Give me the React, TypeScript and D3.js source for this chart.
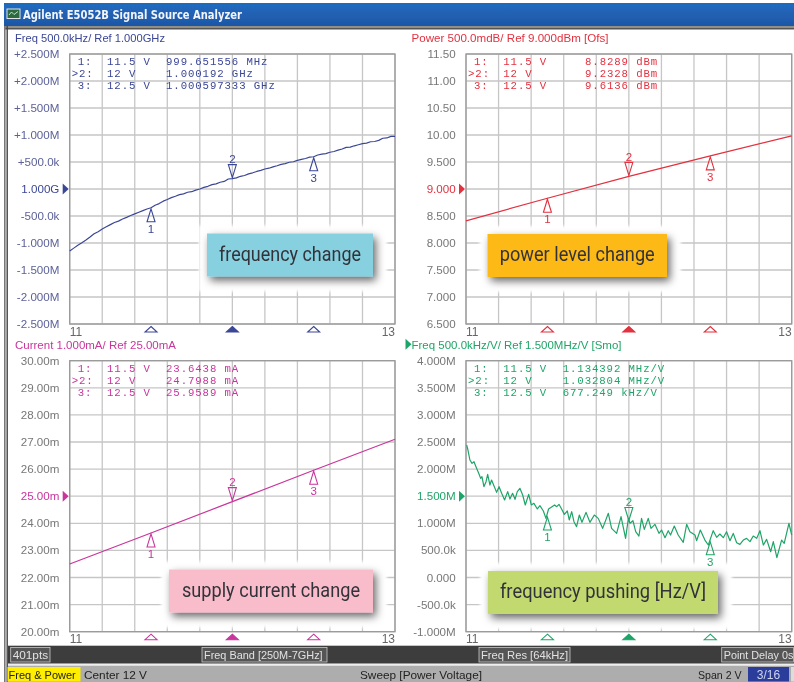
import React from "react";
import * as d3 from "d3";

const width = 794;
const height = 682;

// voltage sweep of the frequency trace
const freqVolts = [
  11, 11.025, 11.05, 11.075, 11.1, 11.125, 11.15, 11.175, 11.2, 11.225, 11.25, 11.275, 11.3, 11.325, 11.35, 11.375,
  11.4, 11.425, 11.45, 11.475, 11.5, 11.525, 11.55, 11.575, 11.6, 11.625, 11.65, 11.675, 11.7, 11.725, 11.75, 11.775,
  11.8, 11.825, 11.85, 11.875, 11.9, 11.925, 11.95, 11.975, 12, 12.025, 12.05, 12.075, 12.1, 12.125, 12.15, 12.175,
  12.2, 12.225, 12.25, 12.275, 12.3, 12.325, 12.35, 12.375, 12.4, 12.425, 12.45, 12.475, 12.5, 12.525, 12.55, 12.575,
  12.6, 12.625, 12.65, 12.675, 12.7, 12.725, 12.75, 12.775, 12.8, 12.825, 12.85, 12.875, 12.9, 12.925, 12.95, 12.975,
  13,
];
const freqValues = [
  -1.148, -1.095, -1.04, -0.995, -0.945, -0.89, -0.83, -0.79, -0.74, -0.7, -0.66, -0.62, -0.595, -0.555, -0.525, -0.49,
  -0.46, -0.43, -0.4, -0.37, -0.348, -0.3, -0.27, -0.225, -0.195, -0.16, -0.135, -0.105, -0.09, -0.06, -0.05, -0.02, 0,
  0.03, 0.05, 0.08, 0.095, 0.125, 0.14, 0.185, 0.192, 0.205, 0.235, 0.25, 0.28, 0.3, 0.325, 0.345, 0.37, 0.385, 0.41,
  0.43, 0.455, 0.47, 0.495, 0.505, 0.53, 0.55, 0.565, 0.59, 0.597, 0.63, 0.645, 0.655, 0.68, 0.695, 0.72, 0.74, 0.77,
  0.775, 0.8, 0.82, 0.84, 0.85, 0.875, 0.88, 0.9, 0.94, 0.945, 0.975, 0.975,
];

const powerVolts = [11, 11.5, 12, 12.5, 13];
const powerValues = [8.41, 8.829, 9.233, 9.614, 9.985];

const currentVolts = [11, 11.5, 12, 12.5, 13];
const currentValues = [22.5, 23.644, 24.799, 25.959, 27.1];

const pushVolts = [
  11.004, 11.012, 11.024, 11.037, 11.049, 11.065, 11.078, 11.09, 11.098, 11.11, 11.123, 11.133, 11.147, 11.157, 11.174,
  11.188, 11.203, 11.219, 11.237, 11.256, 11.27, 11.286, 11.301, 11.315, 11.331, 11.348, 11.364, 11.385, 11.401,
  11.417, 11.438, 11.454, 11.475, 11.491, 11.507, 11.528, 11.544, 11.557, 11.571, 11.587, 11.604, 11.622, 11.634,
  11.649, 11.663, 11.679, 11.696, 11.712, 11.737, 11.761, 11.788, 11.812, 11.839, 11.874, 11.894, 11.925, 11.952,
  11.98, 11.997, 12.007, 12.025, 12.042, 12.062, 12.078, 12.095, 12.119, 12.136, 12.16, 12.185, 12.201, 12.222,
  12.242, 12.256, 12.279, 12.303, 12.334, 12.355, 12.375, 12.406, 12.416, 12.439, 12.467, 12.488, 12.518, 12.539,
  12.559, 12.58, 12.6, 12.621, 12.641, 12.662, 12.682, 12.703, 12.723, 12.744, 12.764, 12.785, 12.805, 12.826, 12.846,
  12.871, 12.887, 12.909, 12.938, 12.954, 12.983, 13,
];
const pushValues = [
  2.445, 2.352, 2.168, 2.106, 2.137, 2.014, 1.922, 1.829, 1.86, 1.676, 1.768, 1.903, 1.706, 1.799, 1.676, 1.571, 1.676,
  1.553, 1.43, 1.584, 1.448, 1.553, 1.442, 1.584, 1.645, 1.522, 1.338, 1.534, 1.338, 1.368, 1.264, 1.325, 1.227, 1.091,
  1.264, 1.307, 1.338, 1.307, 1.35, 1.264, 1.165, 1.227, 1.061, 1.214, 1.03, 0.938, 1.153, 1.018, 1.202, 1.018, 1.153,
  1.091, 0.907, 1.184, 0.907, 0.815, 1.122, 0.722, 1.091, 1.0, 1.048, 0.845, 0.765, 1.091, 0.888, 1.091, 0.907, 0.981,
  0.815, 0.876, 0.735, 0.864, 0.784, 0.95, 0.784, 0.648, 0.981, 0.845, 0.784, 0.679, 0.876, 0.691, 0.599, 0.864, 0.741,
  0.802, 0.735, 0.845, 0.679, 0.814, 0.642, 0.611, 0.691, 0.722, 0.661, 0.765, 0.722, 0.864, 0.599, 0.704, 0.476, 0.661,
  0.366, 0.691, 0.63, 1.0, 0.784,
];

const markerVolts = [11.5, 12, 12.5];
const markerNames = ["1:", ">2:", "3:"];
const markerVoltText = ["11.5 V", "12 V", "12.5 V"];

const freqTicks = ["+2.500M", "+2.000M", "+1.500M", "+1.000M", "+500.0k", "1.000G", "-500.0k", "-1.000M", "-1.500M", "-2.000M", "-2.500M"];
const powerTicks = ["11.50", "11.00", "10.50", "10.00", "9.500", "9.000", "8.500", "8.000", "7.500", "7.000", "6.500"];
const currentTicks = ["30.00m", "29.00m", "28.00m", "27.00m", "26.00m", "25.00m", "24.00m", "23.00m", "22.00m", "21.00m", "20.00m"];
const pushTicks = ["4.000M", "3.500M", "3.000M", "2.500M", "2.000M", "1.500M", "1.000M", "500.0k", "0.000", "-500.0k", "-1.000M"];

const panels = [
  {
    title: "Freq 500.0kHz/ Ref 1.000GHz",
    titleWidth: 150,
    color: "#3b4796",
    tickColor: "#5c6199",
    left: 69.7, right: 395, top: 54, bottom: 324,
    domain: [-2.5, 2.5],
    ticks: freqTicks,
    volts: freqVolts,
    values: freqValues,
    markers: [-0.348, 0.192, 0.597],
    readout: ["999.651556 MHz", "1.000192 GHz", "1.000597333 GHz"],
    readoutX: 166,
    callout: { text: "frequency change", fill: "#86d0df", x0: 207, x1: 373, textWidth: 142 },
    calloutTop: 233.5,
  },
  {
    title: "Power 500.0mdB/ Ref 9.000dBm [Ofs]",
    titleWidth: 197,
    color: "#e2313f",
    tickColor: "#777",
    left: 466, right: 791.7, top: 54, bottom: 324,
    domain: [6.5, 11.5],
    ticks: powerTicks,
    volts: powerVolts,
    values: powerValues,
    markers: [8.829, 9.233, 9.614],
    readout: ["8.8289 dBm", "9.2328 dBm", "9.6136 dBm"],
    readoutX: 585,
    callout: { text: "power level change", fill: "#fdb913", x0: 487.5, x1: 667, textWidth: 155 },
    calloutTop: 234,
  },
  {
    title: "Current 1.000mA/ Ref 25.00mA",
    titleWidth: 161,
    color: "#c9359c",
    tickColor: "#777",
    left: 69.7, right: 395, top: 360.7, bottom: 631.7,
    domain: [20, 30],
    ticks: currentTicks,
    volts: currentVolts,
    values: currentValues,
    markers: [23.644, 24.799, 25.959],
    readout: ["23.6438 mA", "24.7988 mA", "25.9589 mA"],
    readoutX: 166,
    callout: { text: "supply current change", fill: "#f8bccb", x0: 169, x1: 373, textWidth: 178 },
    calloutTop: 569.5,
  },
  {
    title: "Freq 500.0kHz/V/ Ref 1.500MHz/V [Smo]",
    titleWidth: 210,
    color: "#1fa567",
    tickColor: "#777",
    left: 466, right: 791.7, top: 360.7, bottom: 631.7,
    domain: [-1, 4],
    ticks: pushTicks,
    volts: pushVolts,
    values: pushValues,
    markers: [1.134, 1.033, 0.677],
    readout: ["1.134392 MHz/V", "1.032804 MHz/V", "677.249 kHz/V"],
    readoutX: 562.7,
    callout: { text: "frequency pushing [Hz/V]", fill: "#c1d96e", x0: 488, x1: 718, textWidth: 206 },
    calloutTop: 571,
  },
];

type PanelDef = (typeof panels)[number];

const sans = "'Liberation Sans', Arial, sans-serif";
const mono = "'Liberation Mono', monospace";

const scalesFor = (p: PanelDef) => ({
  x: d3.scaleLinear().domain([11, 13]).range([p.left, p.right]),
  y: d3.scaleLinear().domain(p.domain).range([p.bottom, p.top]),
  yTicks: d3.ticks(p.domain[0], p.domain[1], 10),
});

function PanelGrid({ p }: { p: PanelDef }) {
  const { x, y, yTicks } = scalesFor(p);
  return (
    <g>
      {x.ticks(10).map((t) => (
        <line key={t} x1={x(t)} x2={x(t)} y1={p.top} y2={p.bottom} stroke="#c6c6c6" strokeWidth={1.3} />
      ))}
      {yTicks.map((t) => (
        <line key={t} x1={p.left} x2={p.right} y1={y(t)} y2={y(t)} stroke="#c6c6c6" strokeWidth={1.3} />
      ))}
    </g>
  );
}

function PanelMarks({ p }: { p: PanelDef }) {
  const { x, y, yTicks } = scalesFor(p);
  const line = d3
    .line<number>()
    .x((d, i) => x(p.volts[i]))
    .y((d) => y(d));
  const refValue = yTicks[yTicks.length - 1 - 5];
  const isRight = p.left > 100;
  const labelRight = p.left - 10.3;
  const titleX = isRight ? p.left - 54.5 : 15;

  return (
    <g>
      <text
        x={titleX}
        y={p.top - 12}
        fontFamily={sans}
        fontSize={11.6}
        fill={p.color}
        textLength={p.titleWidth}
        lengthAdjust="spacingAndGlyphs"
      >
        {p.title}
      </text>
      {/* the active trace gets a small arrow in front of its title */}
      {p === panels[3] && (
        <path d={`M${titleX - 6},${p.top - 22}L${titleX},${p.top - 16.5}L${titleX - 6},${p.top - 11}Z`} fill={p.color} />
      )}
      <rect x={p.left} y={p.top} width={p.right - p.left} height={p.bottom - p.top} fill="none" stroke="#999" strokeWidth={1.3} />
      {/* tick labels */}
      {p.ticks.map((label, i) => (
        <text
          key={label}
          x={labelRight}
          y={y(yTicks[yTicks.length - 1 - i]) + 4}
          textAnchor="end"
          fontFamily={sans}
          fontSize={11.6}
          fill={i === 5 ? p.color : p.tickColor}
        >
          {label}
        </text>
      ))}
      <path
        d={`M${p.left - 7},${y(refValue) - 5.5}L${p.left - 1},${y(refValue)}L${p.left - 7},${y(refValue) + 5.5}Z`}
        fill={p.color}
      />
      <text x={p.left} y={p.bottom + 11.5} fontFamily={sans} fontSize={12} fill="#666">11</text>
      <text x={p.right} y={p.bottom + 11.5} textAnchor="end" fontFamily={sans} fontSize={12} fill="#666">13</text>

      {/* readout */}
      {markerNames.map((name, i) => {
        const rowY = p.top + 10.8 + i * 12.2;
        const nameX = p.left + (i === 1 ? 2 : 8);
        return (
          <g key={name} fontFamily={mono} fontSize={10.7} fill={p.color} style={{ letterSpacing: "0.9px" }}>
            <text x={nameX} y={rowY}>{name}</text>
            <text x={p.left + 37.3} y={rowY}>{markerVoltText[i]}</text>
            <text x={p.readoutX} y={rowY}>{p.readout[i]}</text>
          </g>
        );
      })}

      {/* trace */}
      <path d={line(p.values) || ""} fill="none" stroke={p.color} strokeWidth={1.2} strokeLinejoin="round" />

      {/* markers on the trace */}
      {markerVolts.map((v, i) => {
        const mx = x(v);
        const my = y(p.markers[i]);
        const up = i !== 1;
        const d = up
          ? `M${mx},${my + 1}L${mx + 4},${my + 14}L${mx - 4},${my + 14}Z`
          : `M${mx},${my - 1}L${mx + 4},${my - 14}L${mx - 4},${my - 14}Z`;
        return (
          <g key={v}>
            <path d={d} fill="none" stroke={p.color} strokeWidth={1.1} />
            <text
              x={mx}
              y={up ? my + 25 : my - 15.5}
              textAnchor="middle"
              fontFamily={sans}
              fontSize={11.5}
              fill={p.color}
            >
              {i + 1}
            </text>
          </g>
        );
      })}

      {/* markers on the axis */}
      {markerVolts.map((v, i) => {
        const mx = x(v);
        const d = `M${mx},${p.bottom + 2.5}L${mx + 6},${p.bottom + 8}L${mx - 6},${p.bottom + 8}Z`;
        return <path key={v} d={d} fill={i === 1 ? p.color : "none"} stroke={p.color} strokeWidth={1.1} />;
      })}
    </g>
  );
}

// white patch the pasted label leaves on the grid
function CalloutHalo({ p }: { p: PanelDef }) {
  const c = p.callout;
  const top = p.calloutTop;
  return (
    <rect
      x={c.x0 - 8}
      y={top - 8}
      width={c.x1 - c.x0 + 22}
      height={66}
      fill="#fff"
      filter="url(#soft)"
    />
  );
}

function Callout({ p }: { p: PanelDef }) {
  const c = p.callout;
  const top = p.calloutTop;
  return (
    <g>
      <rect x={c.x0} y={top} width={c.x1 - c.x0} height={43} fill={c.fill} filter="url(#shadow)" />
      <text
        x={(c.x0 + c.x1) / 2}
        y={top + 27}
        textAnchor="middle"
        fontFamily="Roboto, sans-serif"
        fontSize={19.5}
        fill="#33333a"
        textLength={c.textWidth}
        lengthAdjust="spacingAndGlyphs"
      >
        {c.text}
      </text>
    </g>
  );
}

function StatusBox({ x0, x1, label, size = 11.8 }: { x0: number; x1: number; label: string; size?: number }) {
  return (
    <g>
      <rect x={x0} y={647.5} width={x1 - x0} height={14.5} fill="#555" stroke="#c8c8c8" strokeWidth={0.8} />
      <text x={x0 + 2} y={659} fontFamily={sans} fontSize={size} fill="#e2e2e2">
        {label}
      </text>
    </g>
  );
}

export default function App() {
  return (
    <svg
      width={width}
      height={height}
      viewBox={`0 0 ${width} ${height}`}
      style={{ position: "absolute", left: 0, top: 0, display: "block", background: "#fff" }}
    >
      <defs>
        <linearGradient id="titleBar" x1="0" x2="0" y1="0" y2="1">
          <stop offset="0" stopColor="#1f6cc0" />
          <stop offset="0.5" stopColor="#2160b2" />
          <stop offset="1" stopColor="#1e56a6" />
        </linearGradient>
        <filter id="shadow" x="-20%" y="-40%" width="140%" height="200%">
          <feDropShadow dx="3" dy="4" stdDeviation="4" floodColor="#000" floodOpacity="0.6" />
        </filter>
        <filter id="soft" x="-20%" y="-40%" width="140%" height="180%">
          <feGaussianBlur stdDeviation="1.5" />
        </filter>
        <filter id="scan" x="0" y="0" width="100%" height="100%">
          <feGaussianBlur stdDeviation="0.35" />
        </filter>
      </defs>

      <g filter="url(#scan)">
        <rect x={0} y={0} width={width} height={height} fill="#fff" />
        {/* window frame */}
        <rect x={4} y={3} width={790} height={23} fill="url(#titleBar)" />
        <rect x={4} y={26} width={790} height={2} fill="#8f8f86" />
        <rect x={4} y={28} width={790} height={1.5} fill="#555" />
        <rect x={4} y={26} width={1.6} height={656} fill="#777" />
        <rect x={6.5} y={26} width={1.4} height={656} fill="#444" />
        <rect x={7} y={9} width={13} height={9.5} fill="#2d6b3d" stroke="#e4e4e4" strokeWidth={1} />
        <path d="M9,15L11.5,12L14,14.5L18,11.5" fill="none" stroke="#dfe" strokeWidth={0.8} />
        <text
          x={23}
          y={18.5}
          fontFamily="'DejaVu Sans', sans-serif"
          fontWeight="bold"
          fontSize={13}
          fill="#f2f5fa"
          textLength={219}
          lengthAdjust="spacingAndGlyphs"
        >
          Agilent E5052B Signal Source Analyzer
        </text>

        {panels.map((p) => (
          <PanelGrid key={p.title} p={p} />
        ))}
        {panels.map((p) => (
          <CalloutHalo key={p.title} p={p} />
        ))}
        {panels.map((p) => (
          <PanelMarks key={p.title} p={p} />
        ))}
        {panels.map((p) => (
          <Callout key={p.title} p={p} />
        ))}

        {/* status bars */}
        <rect x={8} y={645.7} width={786} height={18} fill="#3c3c3c" />
        <rect x={8} y={663.7} width={786} height={2} fill="#eee" />
        <rect x={8} y={665.7} width={786} height={16.3} fill="#adadad" />
        <StatusBox x0={10.7} x1={50} label="401pts" />
        <StatusBox x0={202} x1={327} label="Freq Band [250M-7GHz]" size={10.9} />
        <StatusBox x0={479} x1={570} label="Freq Res [64kHz]" size={11.2} />
        <StatusBox x0={721.7} x1={793.5} label="Point Delay 0s" size={10.8} />
        <rect x={7.5} y={667} width={73} height={14.5} fill="#ffee00" />
        <g fontFamily={sans} fontSize={11.8} fill="#222">
          <text x={8.5} y={678.5} fontSize={11}>Freq &amp; Power</text>
          <text x={84} y={678.5}>Center 12 V</text>
          <text x={360} y={678.5}>Sweep [Power Voltage]</text>
          <text x={698} y={678.5} fontSize={10.6}>Span 2 V</text>
        </g>
        <rect x={748} y={667} width={41} height={14.5} fill="#2b3c9a" />
        <text x={768.5} y={678.5} textAnchor="middle" fontFamily={sans} fontSize={12} fill="#cfd3ea">3/16</text>
        <rect x={791} y={667} width={3} height={14.5} fill="#ddd" />
      </g>
    </svg>
  );
}
